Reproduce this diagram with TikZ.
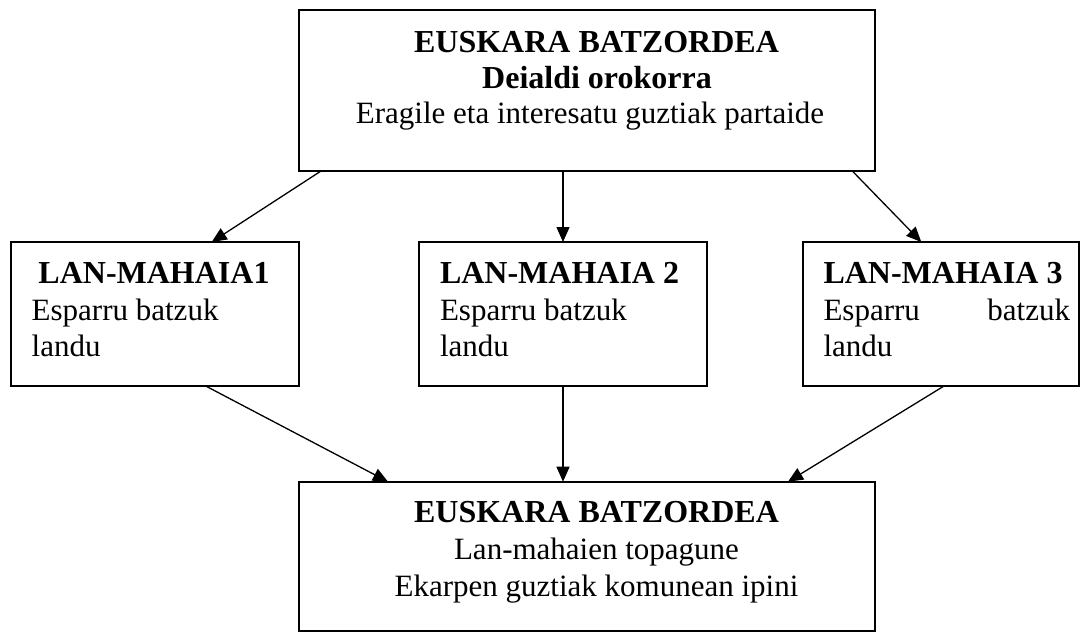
\documentclass[tikz,border=0pt]{standalone}
\usepackage{fontspec}
\setmainfont{Liberation Serif}
\usetikzlibrary{arrows.meta}
\begin{document}
\begin{tikzpicture}[x=1pt,y=-1pt,
  box/.style={draw=black,line width=1.6pt,inner sep=0pt,outer sep=0pt,rectangle},
  txt/.style={inner sep=0pt,outer sep=0pt,font=\fontsize{31pt}{36pt}\selectfont},
  bt/.style={txt,font=\fontsize{32pt}{36pt}\selectfont\bfseries},
  arr/.style={line width=1.3pt,-{Triangle[length=15pt,width=13pt]}}]
\useasboundingbox (0,0) rectangle (1081,637);
% boxes
\node[box,minimum width=576.3pt,minimum height=160.7pt] (top) at (586.85,90.35) {};
\node[box,minimum width=288.3pt,minimum height=144pt] (m1) at (154.85,314) {};
\node[box,minimum width=288pt,minimum height=144pt] (m2) at (563,314) {};
\node[box,minimum width=276pt,minimum height=144pt] (m3) at (941,314) {};
\node[box,minimum width=576pt,minimum height=149.3pt] (bot) at (587,556.35) {};
% top texts
\node[bt,anchor=base] (t1) at (596.5,52.5) {EUSKARA BATZORDEA};
\node[bt,anchor=base] (t2) at (597,88) {Deialdi orokorra};
\node[txt,anchor=base] (t3) at (590,123.5) {Eragile eta interesatu guztiak partaide};
% middle texts
\node[bt,anchor=base] (a1) at (154,283.3) {LAN-MAHAIA1};
\node[txt,anchor=base west] (a2) at (31.7,320) {Esparru batzuk};
\node[txt,anchor=base west] (a3) at (31.7,356.7) {landu};
\node[bt,anchor=base west] (b1) at (440,283.3) {LAN-MAHAIA 2};
\node[txt,anchor=base west] (b2) at (440,320) {Esparru batzuk};
\node[txt,anchor=base west] (b3) at (440,356.7) {landu};
\node[bt,anchor=base west] (c1) at (823.5,283.3) {LAN-MAHAIA 3};
\node[txt,anchor=base west] (c2) at (823.5,320) {\makebox[246.5pt][s]{Esparru\hfill batzuk}};
\node[txt,anchor=base west] (c3) at (823.5,356.7) {landu};
% bottom texts
\node[bt,anchor=base] (d1) at (596.5,522.7) {EUSKARA BATZORDEA};
\node[txt,anchor=base] (d2) at (596.5,559.3) {Lan-mahaien topagune};
\node[txt,anchor=base] (d3) at (596.5,596) {Ekarpen guztiak komunean ipini};
% arrows
\draw[arr] ([xshift=22.8pt]top.south west) -- ([xshift=201pt]m1.north west);
\draw[arr] (m2.north |- top.south) -- (m2.north);
\draw[arr] ([xshift=-23pt]top.south east) -- ([xshift=118.3pt]m3.north west);
\draw[arr] ([xshift=195pt]m1.south west) -- ([xshift=89pt]bot.north west);
\draw[arr] (m2.south) -- (m2.south |- bot.north);
\draw[arr] ([xshift=141pt]m3.south west) -- ([xshift=-87pt]bot.north east);
\end{tikzpicture}
\end{document}
